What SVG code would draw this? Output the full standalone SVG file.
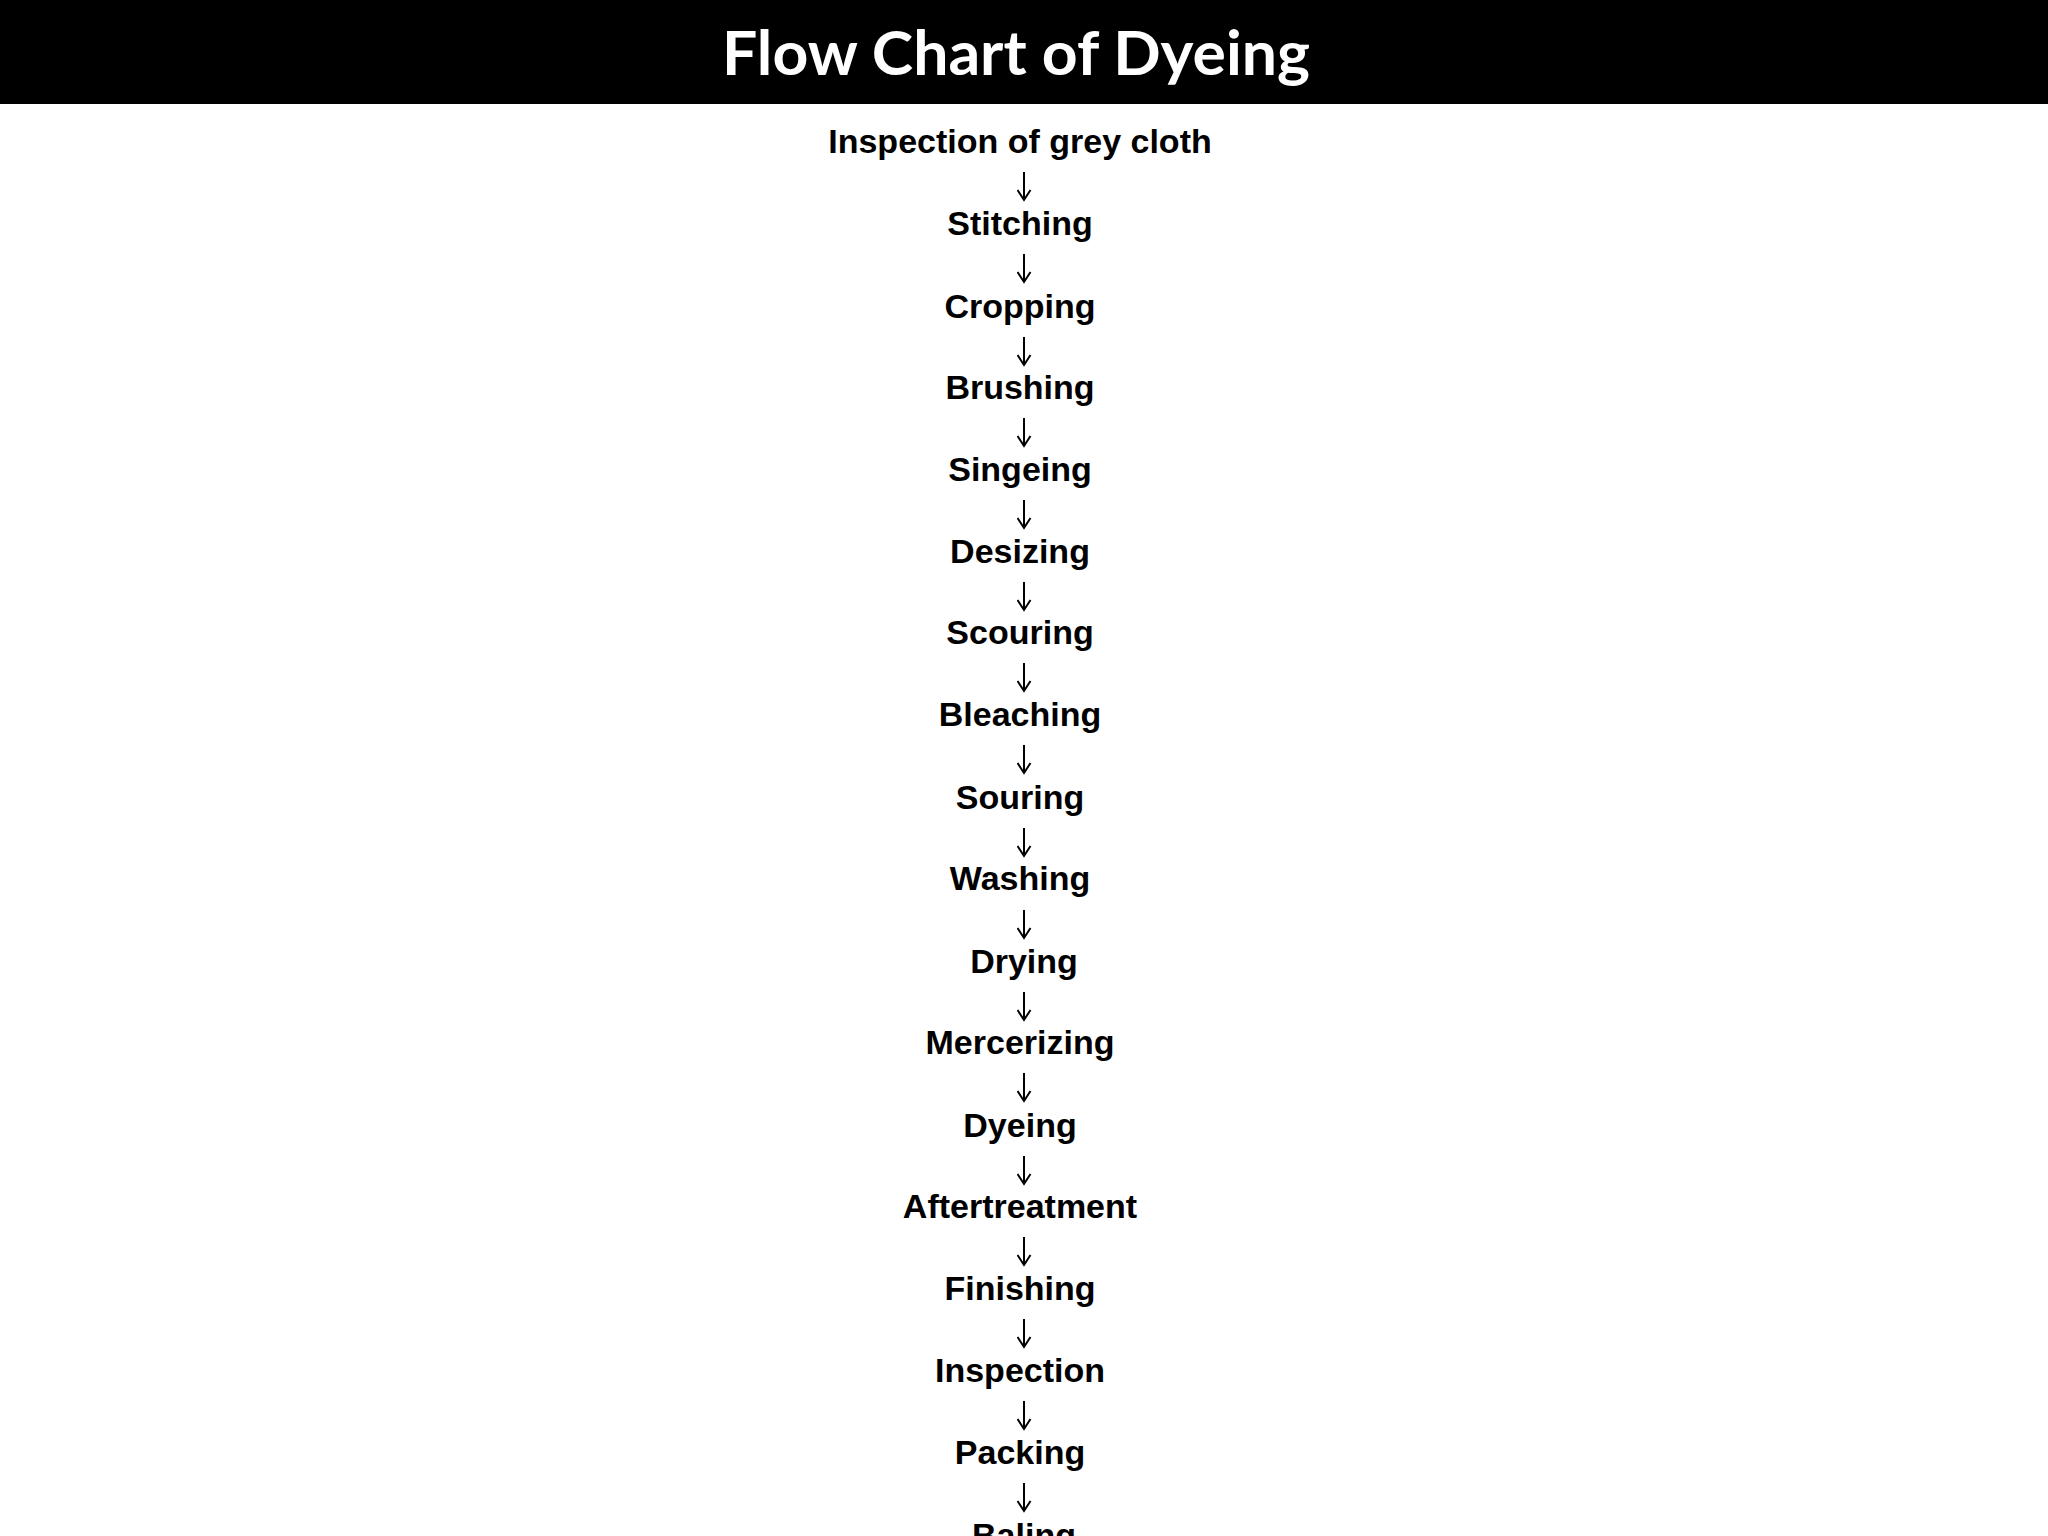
<svg xmlns="http://www.w3.org/2000/svg" width="2048" height="1536" viewBox="0 0 2048 1536">
<style>
.title{font-family:Lato,"Open Sans","Liberation Sans",sans-serif;font-weight:bold;font-size:62px;fill:#fff;text-anchor:middle}
.step{font-family:"Liberation Sans",Arial,sans-serif;font-weight:bold;font-size:34px;fill:#000;text-anchor:middle}
.arr{stroke:#000;stroke-width:2;fill:none}
</style>
<defs>
<marker id="ah" markerWidth="16" markerHeight="14" refX="7.5" refY="11" orient="0" markerUnits="userSpaceOnUse">
<path d="M1,1 L7.5,11 L14,1" stroke="#000" stroke-width="2" fill="none"/>
</marker>
</defs>
<rect x="0" y="0" width="2048" height="104" fill="#000"/>
<text class="title" x="1016" y="75" textLength="588" lengthAdjust="spacingAndGlyphs">Flow Chart of Dyeing</text>
<g id="n1"><text class="step" x="1020" y="153">Inspection of grey cloth</text></g>
<g id="n2"><text class="step" x="1020" y="235">Stitching</text></g>
<g id="n3"><text class="step" x="1020" y="318">Cropping</text></g>
<g id="n4"><text class="step" x="1020" y="399">Brushing</text></g>
<g id="n5"><text class="step" x="1020" y="481">Singeing</text></g>
<g id="n6"><text class="step" x="1020" y="563">Desizing</text></g>
<g id="n7"><text class="step" x="1020" y="644">Scouring</text></g>
<g id="n8"><text class="step" x="1020" y="726">Bleaching</text></g>
<g id="n9"><text class="step" x="1020" y="809">Souring</text></g>
<g id="n10"><text class="step" x="1020" y="890">Washing</text></g>
<g id="n11"><text class="step" x="1024" y="973">Drying</text></g>
<g id="n12"><text class="step" x="1020" y="1054">Mercerizing</text></g>
<g id="n13"><text class="step" x="1020" y="1137">Dyeing</text></g>
<g id="n14"><text class="step" x="1020" y="1218">Aftertreatment</text></g>
<g id="n15"><text class="step" x="1020" y="1300">Finishing</text></g>
<g id="n16"><text class="step" x="1020" y="1382">Inspection</text></g>
<g id="n17"><text class="step" x="1020" y="1464">Packing</text></g>
<g id="n18"><text class="step" x="1024" y="1547">Baling</text></g>
<g id="connectors" class="arr">
<path class="arr" d="M1024,172 V200" marker-end="url(#ah)"/>
<path class="arr" d="M1024,254 V282" marker-end="url(#ah)"/>
<path class="arr" d="M1024,337 V365" marker-end="url(#ah)"/>
<path class="arr" d="M1024,418 V446" marker-end="url(#ah)"/>
<path class="arr" d="M1024,500 V528" marker-end="url(#ah)"/>
<path class="arr" d="M1024,582 V610" marker-end="url(#ah)"/>
<path class="arr" d="M1024,663 V691" marker-end="url(#ah)"/>
<path class="arr" d="M1024,745 V773" marker-end="url(#ah)"/>
<path class="arr" d="M1024,828 V856" marker-end="url(#ah)"/>
<path class="arr" d="M1024,910 V938" marker-end="url(#ah)"/>
<path class="arr" d="M1024,992 V1020" marker-end="url(#ah)"/>
<path class="arr" d="M1024,1073 V1101" marker-end="url(#ah)"/>
<path class="arr" d="M1024,1156 V1184" marker-end="url(#ah)"/>
<path class="arr" d="M1024,1237 V1265" marker-end="url(#ah)"/>
<path class="arr" d="M1024,1319 V1347" marker-end="url(#ah)"/>
<path class="arr" d="M1024,1401 V1429" marker-end="url(#ah)"/>
<path class="arr" d="M1024,1483 V1511" marker-end="url(#ah)"/>
</g>
</svg>
